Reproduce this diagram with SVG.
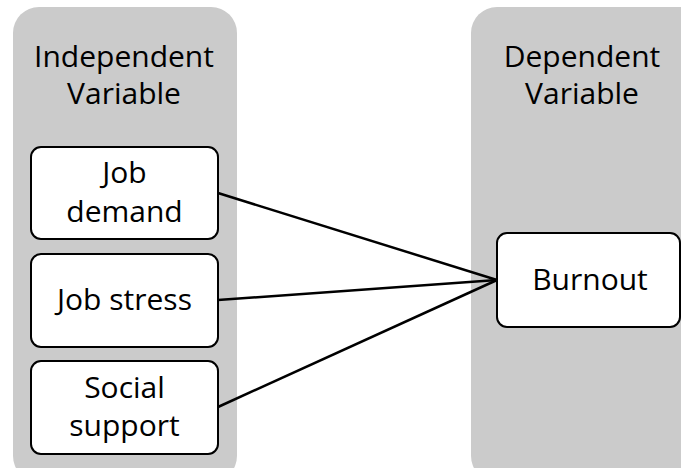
<svg xmlns="http://www.w3.org/2000/svg" width="681" height="468" viewBox="0 0 681 468">
<style>
.panel{fill:#cbcbcb;stroke:none}
.box{fill:#fff;stroke:#000;stroke-width:2}
.t{font-family:"Open Sans","Liberation Sans",sans-serif;font-size:30px;fill:#000;text-anchor:middle}
.conn{stroke:#000;stroke-width:2.5;fill:none}
</style>
<rect width="681" height="468" fill="#fff"/>
<g id="panel-independent">
<rect class="panel" x="13" y="7" width="224" height="475" rx="26"/>
<text class="t" x="124" y="67">Independent</text>
<text class="t" x="124" y="104">Variable</text>
</g>
<g id="panel-dependent">
<rect class="panel" x="471" y="7" width="240" height="475" rx="26"/>
<text class="t" x="582" y="67">Dependent</text>
<text class="t" x="582" y="104">Variable</text>
</g>
<g id="connectors">
<line class="conn" x1="218" y1="193" x2="497" y2="280"/>
<line class="conn" x1="218" y1="300" x2="497" y2="280"/>
<line class="conn" x1="218" y1="407" x2="497" y2="280"/>
</g>
<g id="job-demand">
<rect class="box" x="31" y="147" width="187" height="92" rx="10"/>
<text class="t" x="124.5" y="183">Job</text>
<text class="t" x="124.5" y="222">demand</text>
</g>
<g id="job-stress">
<rect class="box" x="31" y="254" width="187" height="93" rx="10"/>
<text class="t" x="124.5" y="310">Job stress</text>
</g>
<g id="social-support">
<rect class="box" x="31" y="361" width="187" height="93" rx="10"/>
<text class="t" x="124.5" y="398">Social</text>
<text class="t" x="124.5" y="436">support</text>
</g>
<g id="burnout">
<rect class="box" x="497" y="233" width="183" height="94" rx="10"/>
<text class="t" x="590" y="290">Burnout</text>
</g>
</svg>
